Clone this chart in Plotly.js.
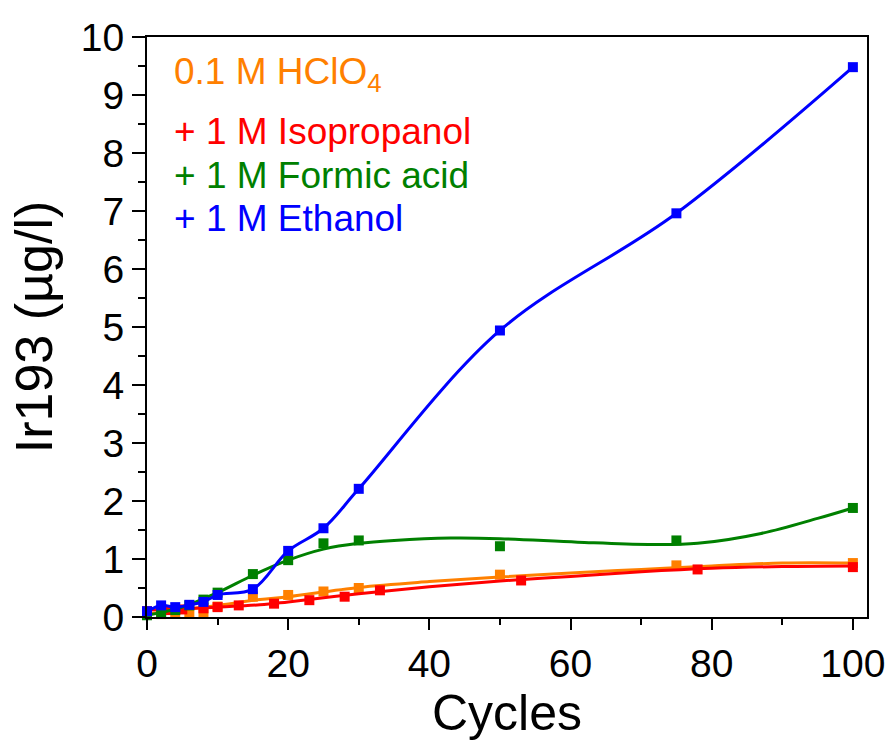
<!DOCTYPE html>
<html>
<head>
<meta charset="utf-8">
<script src="https://cdn.plot.ly/plotly-3.0.1.min.js"></script>
<style>html,body{margin:0;padding:0;background:#fff;}#chart{width:890px;height:742px;}</style>
</head>
<body>
<div id="chart"></div>
<script>
// Measured data points
const xHClO4 = [0, 2, 4, 6, 8, 10, 15, 20, 25, 30, 50, 75, 100];
const yHClO4 = [0.05, 0.05, 0.06, 0.07, 0.08, 0.18, 0.35, 0.38, 0.44, 0.5, 0.73, 0.89, 0.93];
const xIso = [0, 3, 5, 8, 10, 13, 18, 23, 28, 33, 53, 78, 100];
const yIso = [0.1, 0.12, 0.13, 0.15, 0.17, 0.2, 0.23, 0.29, 0.35, 0.46, 0.63, 0.82, 0.86];
const xFormic = [0, 2, 4, 6, 8, 10, 15, 20, 25, 30, 50, 75, 100];
const yFormic = [0.03, 0.08, 0.12, 0.2, 0.3, 0.42, 0.74, 0.98, 1.27, 1.32, 1.22, 1.32, 1.88];
const xEthanol = [0, 2, 4, 6, 8, 10, 15, 20, 25, 30, 50, 75, 100];
const yEthanol = [0.1, 0.2, 0.17, 0.21, 0.26, 0.38, 0.48, 1.14, 1.53, 2.21, 4.94, 6.96, 9.48];

// Fitted curves
const xFitHClO4 = [0, 5, 10, 16, 20, 30, 40, 50, 60, 70, 80, 90, 100];
const yFitHClO4 = [0.05, 0.12, 0.2, 0.3, 0.35, 0.51, 0.61, 0.69, 0.76, 0.82, 0.88, 0.93, 0.93];
const xFitIso = [0, 5, 10, 16, 20, 30, 40, 50, 60, 70, 80, 90, 100];
const yFitIso = [0.12, 0.14, 0.17, 0.21, 0.26, 0.4, 0.52, 0.62, 0.7, 0.78, 0.84, 0.87, 0.88];
const xFitFormic = [0, 5, 10, 15, 20, 25, 30, 35, 43, 50, 61, 71, 78, 87, 95, 100];
const yFitFormic = [0.03, 0.17, 0.42, 0.72, 0.98, 1.17, 1.27, 1.32, 1.36, 1.35, 1.29, 1.25, 1.27, 1.44, 1.7, 1.88];

const legendLabels = ['0.1 M HClO<sub>4</sub>', '+ 1 M Isopropanol', '+ 1 M Formic acid', '+ 1 M Ethanol'];
const colors = ['rgb(255,128,0)', 'rgb(255,0,0)', 'rgb(0,128,0)', 'rgb(0,0,255)'];

const FONT = 'Liberation Sans, Arial, sans-serif';

function line(x, y, c) {
  return {x: x, y: y, type: 'scatter', mode: 'lines', line: {color: c, width: 3, shape: 'spline', smoothing: 1}, hoverinfo: 'skip', showlegend: false};
}
function pts(x, y, c) {
  return {x: x, y: y, type: 'scatter', mode: 'markers', marker: {symbol: 'square', size: 10, color: c}, showlegend: false, cliponaxis: false};
}

const data = [
  line(xFitHClO4, yFitHClO4, colors[0]), pts(xHClO4, yHClO4, colors[0]),
  line(xFitIso, yFitIso, colors[1]), pts(xIso, yIso, colors[1]),
  line(xFitFormic, yFitFormic, colors[2]), pts(xFormic, yFormic, colors[2]),
  line(xEthanol, yEthanol, colors[3]), pts(xEthanol, yEthanol, colors[3])
];

const legendY = [0.936, 0.837, 0.762, 0.687];
const annotations = legendLabels.map((t, i) => ({
  text: t, xref: 'paper', yref: 'paper', x: 0.035, y: legendY[i],
  xanchor: 'left', yanchor: 'middle', showarrow: false,
  font: {family: FONT, size: 37, color: colors[i]}
}));

const layout = {
  width: 890, height: 742,
  margin: {l: 147, r: 23, t: 37, b: 125},
  paper_bgcolor: '#fff', plot_bgcolor: '#fff',
  font: {family: FONT, color: '#000'},
  xaxis: {
    range: [0, 102], tickmode: 'array', tickvals: [0, 20, 40, 60, 80, 100],
    ticks: 'outside', ticklen: 11, tickwidth: 2, tickcolor: '#000',
    minor: {tickvals: [10, 30, 50, 70, 90], ticks: 'outside', ticklen: 6, tickwidth: 2, tickcolor: '#000'},
    showline: true, linewidth: 2, linecolor: '#000', mirror: true,
    showgrid: false, zeroline: false,
    tickfont: {family: FONT, size: 39, color: '#000'},
    title: {text: 'Cycles', font: {family: FONT, size: 50, color: '#000'}, standoff: 6}
  },
  yaxis: {
    range: [0, 10], tickmode: 'linear', tick0: 0, dtick: 1,
    ticks: 'outside', ticklen: 13, tickwidth: 2, tickcolor: '#000',
    minor: {dtick: 0.5, ticks: 'outside', ticklen: 7, tickwidth: 2, tickcolor: '#000'},
    showline: true, linewidth: 2, linecolor: '#000', mirror: true,
    showgrid: false, zeroline: false,
    tickfont: {family: FONT, size: 39, color: '#000'},
    title: {text: 'Ir193 (µg/l)', font: {family: FONT, size: 52, color: '#000'}, standoff: 12}
  },
  annotations: annotations,
  showlegend: false
};

Plotly.newPlot('chart', data, layout, {displayModeBar: false, staticPlot: true});
</script>
</body>
</html>
